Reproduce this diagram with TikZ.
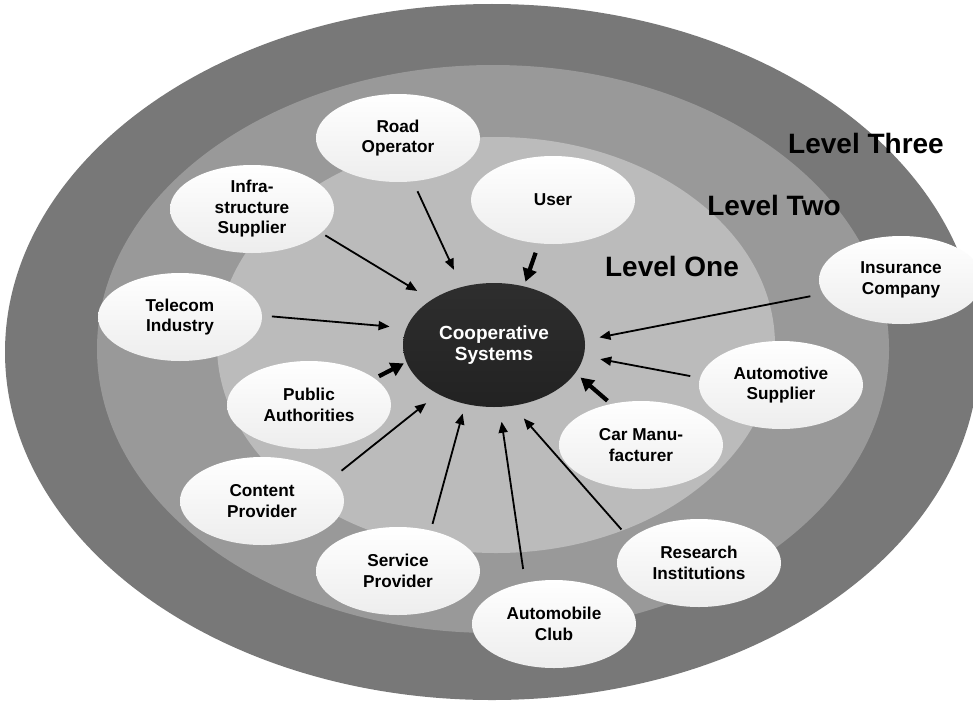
\documentclass[tikz,border=0pt]{standalone}
\usepackage{fontspec}
\setmainfont{Liberation Sans}
\usetikzlibrary{shapes.geometric,arrows.meta}
\definecolor{lvlthree}{HTML}{787878}
\definecolor{lvltwo}{HTML}{999999}
\definecolor{lvlone}{HTML}{BBBBBB}
\definecolor{coopfill}{HTML}{222222}
\definecolor{coopedge}{HTML}{2E2E2E}
\begin{document}
\begin{tikzpicture}[x=1pt,y=-1pt,
  sat/.style={ellipse, minimum width=164pt, minimum height=88pt, inner sep=0pt, outer sep=0pt,
    top color=white, bottom color=black!7, align=center,
    font=\fontsize{17.2}{20.5}\selectfont\bfseries},
  coopnode/.style={ellipse, minimum width=182pt, minimum height=124pt, inner sep=0pt, outer sep=0pt,
    top color=coopedge, bottom color=coopfill, text=white, align=center,
    font=\fontsize{19}{21.5}\selectfont\bfseries},
  lvllabel/.style={anchor=base, inner sep=0pt, font=\fontsize{28}{30}\selectfont\bfseries},
  thinarr/.style={line width=1.8pt, -{Triangle[length=11pt,width=9pt]}},
  thickarr/.style={line width=4.2pt, -{Triangle[length=13pt,width=14pt]}}
]
\useasboundingbox (0,0) rectangle (973,701);
\fill[white] (0,0) rectangle (973,701);
% levels
\fill[lvlthree] (492,352) ellipse [x radius=487pt, y radius=348pt];
\fill[lvltwo] (493,349) ellipse [x radius=396pt, y radius=284pt];
\fill[lvlone] (496,345) ellipse [x radius=279pt, y radius=208pt];
% level labels
\node[lvllabel] (lthree) at (866,153) {Level Three};
\node[lvllabel] (ltwo) at (774,215) {Level Two};
\node[lvllabel] (lone) at (672,276) {Level One};
% centre
\node[coopnode] (coop) at (494,345) {Cooperative\\Systems};
% satellites
\node[sat] (road) at (398,138) {Road\\Operator};
\node[sat] (infra) at (252,209) {Infra-\\structure\\Supplier};
\node[sat] (user) at (553,200) {User};
\node[sat] (telecom) at (180,317) {Telecom\\Industry};
\node[sat] (public) at (309,405) {Public\\Authorities};
\node[sat] (content) at (262,501) {Content\\Provider};
\node[sat] (service) at (398,571) {Service\\Provider};
\node[sat] (club) at (554,624) {Automobile\\Club};
\node[sat] (research) at (699,563) {Research\\Institutions};
\node[sat] (car) at (641,445) {Car Manu-\\facturer};
\node[sat] (autosup) at (781,385) {Automotive\\Supplier};
\node[sat] (insurance) at (901,280) {Insurance\\Company};
% arrows
\draw[thinarr, shorten <=11pt, shorten >=19pt] (road.289) -- (coop.119);
\draw[thinarr, shorten <=5pt, shorten >=17pt] (infra.341) -- (coop.144);
\draw[thickarr, shorten <=10pt, shorten >=5pt] (user.252) -- (coop.63);
\draw[thinarr, shorten <=10pt, shorten >=17pt] (telecom.1) -- (coop.169);
\draw[thickarr, shorten <=5pt, shorten >=3pt] (public.22) -- (coop.191);
\draw[thinarr, shorten <=12pt, shorten >=15pt] (content.18) -- (coop.221);
\draw[thinarr, shorten <=7pt, shorten >=10pt] (service.51) -- (coop.244);
\draw[thinarr, shorten <=14pt, shorten >=15pt] (club.125) -- (coop.275);
\draw[thinarr, shorten <=13pt, shorten >=17pt] (research.161) -- (coop.287);
\draw[thickarr, shorten <=5pt, shorten >=7pt] (car.126) -- (coop.341);
\draw[thinarr, shorten <=10pt, shorten >=17pt] (autosup.175) -- (coop.353);
\draw[thinarr, shorten <=13pt, shorten >=15pt] (insurance.190) -- (coop.3);
\end{tikzpicture}
\end{document}
